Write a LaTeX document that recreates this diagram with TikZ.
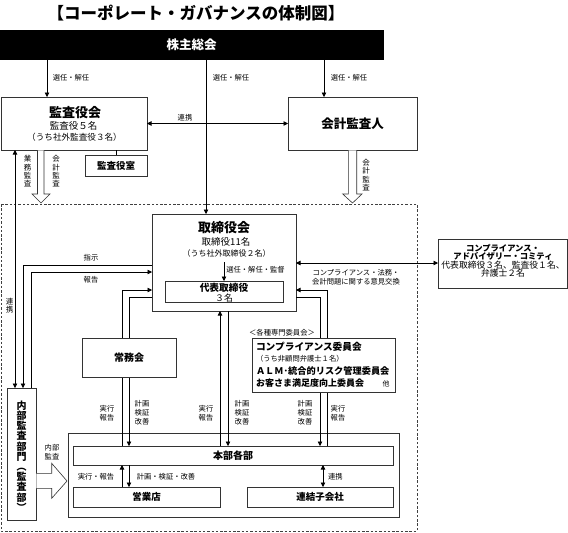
\documentclass[tikz,border=0pt]{standalone}
\usepackage{fontspec}
\setmainfont{Noto Sans CJK JP}
\usetikzlibrary{arrows.meta}
\newcommand{\myfs}[2]{\fontsize{#1}{#2}\selectfont}
\begin{document}
\begin{tikzpicture}[x=1pt,y=-1pt,
  box/.style={draw=black!80, line width=0.7pt, fill=white, inner sep=0pt, outer sep=0pt},
  conn/.style={line width=0.6pt, draw=black},
  arr/.style={conn, -{Triangle[length=4.5pt,width=4.5pt]}},
  darr/.style={conn, {Triangle[length=4.5pt,width=4.5pt]}-{Triangle[length=4.5pt,width=4.5pt]}},
  txt/.style={inner sep=0pt, outer sep=0pt, align=center},
  lbl/.style={txt, font=\myfs{7.3}{9}},
  vlbl/.style={txt, font=\myfs{7.5}{8.3}},
  hollow/.style={draw=black!80, line width=0.6pt, fill=white, line join=miter},
  dashbox/.style={draw=black!75, line width=0.6pt, dash pattern=on 2.5pt off 1.8pt},
]
\useasboundingbox (0,0) rectangle (568,533);

% helper coordinates
\coordinate (xa) at (47,0);
\coordinate (xb) at (206,0);
\coordinate (xc) at (324,0);
\coordinate (x15) at (15,0);
\coordinate (x23) at (23,0);
\coordinate (x31) at (31,0);
\coordinate (x122) at (122,0);
\coordinate (x129) at (129,0);
\coordinate (x220) at (220,0);
\coordinate (x228) at (228,0);
\coordinate (x320) at (320,0);
\coordinate (x323) at (323,0);
\coordinate (x327) at (327,0);
\coordinate (y263) at (0,263);
\coordinate (y265) at (0,265);
\coordinate (y272) at (0,272);
\coordinate (y290) at (0,290);
\coordinate (y297) at (0,297);

% title
\node[txt, font=\bfseries\myfs{16.5}{18}] (title) at (196,13) {【コーポレート・ガバナンスの体制図】};

% dashed frame
\draw[dashbox] (1,204) rectangle (417,531);

% shareholders
\node[fill=black, draw=black, inner sep=0pt, outer sep=0pt, minimum width=383pt, minimum height=29pt,
      text=white, font=\bfseries\myfs{12.5}{14}] (kabu) at (191.5,44.5) {株主総会};

% audit & supervisory board
\node[box, minimum width=146pt, minimum height=53pt] (kansa) at (74,123.5) {};
\node[txt, font=\bfseries\myfs{13}{14}] (kansaT1) at (75,113) {監査役会};
\node[txt, font=\myfs{9.5}{11}] (kansaT2) at (73.5,125.5) {監査役５名};
\node[txt, font=\myfs{8.6}{10}] (kansaT3) at (74.5,137) {（うち社外監査役３名）};

\node[box, minimum width=62pt, minimum height=21pt, font=\bfseries\myfs{9.5}{11}] (shitsu) at (116,165.5) {監査役室};

% accounting auditor
\node[box, minimum width=129pt, minimum height=53pt, font=\bfseries\myfs{12.5}{14}] (kaikei) at (352.5,123.5) {会計監査人};

% board of directors
\node[box, minimum width=144pt, minimum height=97pt] (tori) at (224,262.5) {};
\node[txt, font=\bfseries\myfs{13}{14}] (toriT1) at (224,228) {取締役会};
\node[txt, font=\myfs{9.5}{11}] (toriT2) at (226,242) {取締役11名};
\node[txt, font=\myfs{8}{10}] (toriT3) at (226.5,253.5) {（うち社外取締役２名）};
\node[box, minimum width=118pt, minimum height=21pt] (daihyo) at (224,291.5) {};
\node[txt, font=\bfseries\myfs{9.7}{11}] (daihyoT1) at (224,288) {代表取締役};
\node[txt, font=\myfs{9}{10}] (daihyoT2) at (224,298) {３名};
\coordinate (toriInner) at (224,262);
\draw[arr] (toriInner) -- (daihyo.north);
\node[lbl] (lblSenin) at (255.5,270) {選任・解任・監督};

% compliance advisory committee
\node[box, minimum width=129pt, minimum height=49pt] (adv) at (502.5,263.5) {};
\node[txt, font=\bfseries\myfs{8.3}{8.3}] (advT) at (503,252.5) {コンプライアンス・\\アドバイザリー・コミティ};
\node[txt, font=\myfs{8.8}{8.3}] (advB) at (503,269) {代表取締役３名、監査役１名、\\弁護士２名};

% operations block
\draw[draw=black!80, line width=0.7pt] (68,433) rectangle (399,517);
\node[box, minimum width=320pt, minimum height=19pt, font=\bfseries\myfs{10}{11}] (honbu) at (233,455.5) {本部各部};
\node[box, minimum width=147pt, minimum height=20pt, font=\bfseries\myfs{9.5}{11}] (eigyo) at (146.5,497) {営業店};
\node[box, minimum width=146pt, minimum height=20pt, font=\bfseries\myfs{9.5}{11}] (renketsu) at (320,497) {連結子会社};

% internal audit
\node[box, minimum width=29pt, minimum height=132pt] (naibu) at (21.5,454) {};
\node[txt, font=\bfseries\myfs{10}{10.2}] (naibuT) at (21.5,456) {内\\部\\監\\査\\部\\門\\︵\\監\\査\\部\\︶};

% top arrows
\draw[arr] (kabu.south -| xa) -- (kansa.north -| xa);
\draw[arr] (kabu.south -| xb) -- (tori.north -| xb);
\draw[arr] (kabu.south -| xc) -- (kaikei.north -| xc);
\node[lbl] (lSen1) at (71,78) {選任・解任};
\node[lbl] (lSen2) at (231,78) {選任・解任};
\node[lbl] (lSen3) at (349,78) {選任・解任};

\draw[darr] (kansa.east) -- (kaikei.west);
\node[lbl] (lRen1) at (185,118) {連携};
\draw[conn] (kansa.south -| shitsu.north) -- (shitsu.north);

% hollow arrows
\draw[hollow] (37.5,150.4) -- (37.5,194) -- (32,194) -- (41,203) -- (50,194) -- (44,194) -- (44,150.4);
\draw[hollow] (348.3,150.4) -- (348.3,194) -- (342.7,194) -- (352.5,203) -- (362,194) -- (356.7,194) -- (356.7,150.4);
\node[vlbl] (lGyomu) at (27.5,171.5) {業\\務\\監\\査};
\node[vlbl] (lKaikei1) at (56,171.5) {会\\計\\監\\査};
\node[vlbl] (lKaikei2) at (366,175) {会\\計\\監\\査};

% internal audit links
\draw[darr] (kansa.south -| x15) -- (naibu.north -| x15);
\node[vlbl] (lRen2) at (9.5,306) {連\\携};
\draw[arr] (tori.west |- y265) -| (naibu.north -| x23);
\draw[arr] (naibu.north -| x31) |- (tori.west |- y272);
\node[lbl] (lShiji) at (91,258) {指示};
\node[lbl] (lHoukoku) at (91,280) {報告};

% board <-> divisions
\draw[arr] (honbu.north -| x122) |- (tori.west |- y290);
\draw[arr] (tori.west |- y297) -| (honbu.north -| x129);
\draw[arr] (honbu.north -| x220) -- (tori.south -| x220);
\draw[arr] (tori.south -| x228) -- (honbu.north -| x228);
\draw[arr] (tori.east |- y297) -| (honbu.north -| x320);
\draw[arr] (honbu.north -| x327) |- (tori.east |- y290);

% compliance exchange
\draw[darr] (tori.east |- y263) -- (adv.west |- y263);
\node[lbl] (lComp) at (356,277.5) {コンプライアンス・法務・\\会計問題に関する意見交換};

% managing committee
\node[box, minimum width=94pt, minimum height=39pt, font=\bfseries\myfs{10}{11}] (jomu) at (129,357.5) {常務会};

% specialist committees
\node[lbl] (lKakushu) at (282,333) {＜各種専門委員会＞};
\node[box, minimum width=143pt, minimum height=54pt] (iinkai) at (323.5,365) {};
\node[txt, anchor=west, font=\bfseries\myfs{9.7}{11}] (iT1) at (256,346.5) {コンプライアンス委員会};
\node[txt, anchor=west, font=\myfs{7.3}{9}] (iT2) at (256,358.5) {（うち非顧問弁護士１名）};
\node[txt, anchor=west, font=\bfseries\myfs{9.2}{11}] (iT3) at (256,371) {ＡＬＭ･統合的リスク管理委員会};
\node[txt, anchor=west, font=\bfseries\myfs{9}{11}] (iT4) at (256,383) {お客さま満足度向上委員会};
\node[txt, font=\myfs{7}{9}] (iT5) at (386,383.5) {他};

% execution labels
\node[lbl] (lJ1) at (107,413) {実行\\報告};
\node[lbl] (lK1) at (142,413) {計画\\検証\\改善};
\node[lbl] (lJ2) at (206,413) {実行\\報告};
\node[lbl] (lK2) at (242,413) {計画\\検証\\改善};
\node[lbl] (lK3) at (305,413) {計画\\検証\\改善};
\node[lbl] (lJ3) at (338,413) {実行\\報告};

% internal audit hollow arrow
\draw[hollow] (36.4,473.3) -- (51.7,473.3) -- (51.7,463.3) -- (67,481) -- (51.7,498.3) -- (51.7,488.3) -- (36.4,488.3);
\node[lbl] (lNaibu) at (52,452.5) {内部\\監査};

% inside operations
\draw[arr] (eigyo.north -| x122) -- (honbu.south -| x122);
\draw[arr] (honbu.south -| x129) -- (eigyo.north -| x129);
\node[lbl] (lJ4) at (96,477) {実行・報告};
\node[lbl] (lK4) at (166,477) {計画・検証・改善};
\draw[darr] (honbu.south -| x323) -- (renketsu.north -| x323);
\node[lbl, anchor=west] (lRen3) at (328,477) {連携};

\end{tikzpicture}
\end{document}
